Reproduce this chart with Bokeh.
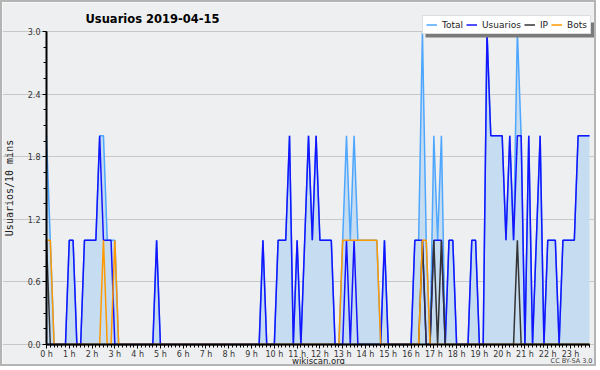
from bokeh.plotting import figure
from bokeh.models import (ColumnDataSource, FixedTicker, NumeralTickFormatter, Legend,
                          LegendItem, Range1d, Label, BoxAnnotation)
from bokeh.embed import file_html
from bokeh.resources import INLINE

# ---- data: one value per 10-minute slot (144 slots), grouped per hour ----
total = [
    2, 1, 0, 0, 0, 0,   1, 1, 0, 0, 1, 1,   1, 1, 2, 2, 1, 1,   1, 0, 0, 0, 0, 0,
    0, 0, 0, 0, 0, 1,   0, 0, 0, 0, 0, 0,   0, 0, 0, 0, 0, 0,   0, 0, 0, 0, 0, 0,
    0, 0, 0, 0, 0, 0,   0, 0, 0, 1, 0, 0,   0, 1, 1, 1, 2, 0,   1, 0, 1, 2, 1, 2,
    1, 1, 1, 1, 0, 0,   1, 2, 1, 2, 1, 1,   1, 1, 1, 1, 0, 1,   0, 0, 0, 0, 0, 0,
    0, 1, 1, 3, 1, 0,   2, 1, 2, 0, 1, 1,   0, 0, 0, 0, 1, 1,   0, 0, 3, 2, 2, 2,
    2, 1, 2, 1, 3, 2,   0, 2, 0, 1, 2, 0,   1, 1, 1, 0, 1, 1,   1, 1, 2, 2, 2, 2,
]
usuarios = [
    0, 0, 0, 0, 0, 0,   1, 1, 0, 0, 1, 1,   1, 1, 2, 1, 1, 1,   0, 0, 0, 0, 0, 0,
    0, 0, 0, 0, 0, 1,   0, 0, 0, 0, 0, 0,   0, 0, 0, 0, 0, 0,   0, 0, 0, 0, 0, 0,
    0, 0, 0, 0, 0, 0,   0, 0, 0, 1, 0, 0,   0, 1, 1, 1, 2, 0,   1, 0, 1, 2, 1, 2,
    1, 1, 1, 1, 0, 0,   0, 1, 0, 1, 0, 0,   0, 0, 0, 0, 0, 1,   0, 0, 0, 0, 0, 0,
    0, 1, 1, 1, 0, 0,   1, 1, 1, 0, 1, 1,   0, 0, 0, 0, 1, 1,   0, 0, 3, 2, 2, 2,
    2, 1, 2, 1, 2, 2,   0, 2, 0, 1, 2, 0,   1, 1, 1, 0, 1, 1,   1, 1, 2, 2, 2, 2,
]
ip = [
    1, 0, 0, 0, 0, 0,   0, 0, 0, 0, 0, 0,   0, 0, 0, 0, 0, 0,   0, 0, 0, 0, 0, 0,
    0, 0, 0, 0, 0, 0,   0, 0, 0, 0, 0, 0,   0, 0, 0, 0, 0, 0,   0, 0, 0, 0, 0, 0,
    0, 0, 0, 0, 0, 0,   0, 0, 0, 0, 0, 0,   0, 0, 0, 0, 0, 0,   0, 0, 0, 0, 0, 0,
    0, 0, 0, 0, 0, 0,   0, 0, 0, 0, 0, 0,   0, 0, 0, 0, 0, 0,   0, 0, 0, 0, 0, 0,
    0, 0, 0, 1, 0, 0,   1, 0, 1, 0, 0, 0,   0, 0, 0, 0, 0, 0,   0, 0, 0, 0, 0, 0,
    0, 0, 0, 0, 1, 0,   0, 0, 0, 0, 0, 0,   0, 0, 0, 0, 0, 0,   0, 0, 0, 0, 0, 0,
]
bots = [
    1, 1, 0, 0, 0, 0,   0, 0, 0, 0, 0, 0,   0, 0, 0, 1, 0, 0,   1, 0, 0, 0, 0, 0,
    0, 0, 0, 0, 0, 0,   0, 0, 0, 0, 0, 0,   0, 0, 0, 0, 0, 0,   0, 0, 0, 0, 0, 0,
    0, 0, 0, 0, 0, 0,   0, 0, 0, 0, 0, 0,   0, 0, 0, 0, 0, 0,   0, 0, 0, 0, 0, 0,
    0, 0, 0, 0, 0, 0,   1, 1, 1, 1, 1, 1,   1, 1, 1, 1, 0, 0,   0, 0, 0, 0, 0, 0,
    0, 0, 0, 1, 1, 0,   0, 0, 0, 0, 0, 0,   0, 0, 0, 0, 0, 0,   0, 0, 0, 0, 0, 0,
    0, 0, 0, 0, 0, 0,   0, 0, 0, 0, 0, 0,   0, 0, 0, 0, 0, 0,   0, 0, 0, 0, 0, 0,
]
slots = [k / 6 for k in range(144)]          # time of each slot, in hours
hours = list(range(24))
hour_labels = {h: f"{h} h" for h in hours}
y_ticks = [0.0, 0.6, 1.2, 1.8, 2.4, 3.0]
y_minor = [k * 0.15 for k in range(21)]
series_names = ["Total", "Usuarios", "IP", "Bots"]
series_colors = ["#4DA6FF", "#1414FF", "#333333", "#FF9900"]

src = ColumnDataSource(dict(x=slots, total=total, usuarios=usuarios, ip=ip, bots=bots))

FONT = "DejaVu Sans"
BG = "#EEEFF0"

# the frame fills the whole canvas; both axes are drawn inside it at 0
p = figure(width=596, height=366, output_backend="svg", toolbar_location=None,
           title=None, x_range=Range1d(-1.931, 24.228), y_range=Range1d(-0.230, 3.278),
           min_border_left=0, min_border_right=0, min_border_top=0, min_border_bottom=0,
           background_fill_color=BG, border_fill_color=BG, outline_line_color=None)
p.styles = {"border": "2px solid #B4B4B4"}

p.varea(x="x", y1=0, y2="total", source=src, fill_color="#C6DDF1", fill_alpha=1)
renderers = []
for col, color in zip(["total", "usuarios", "ip", "bots"], series_colors):
    r = p.line(x="x", y=col, source=src, line_color=color, line_width=1.5)
    renderers.append(r)

# axes
p.xaxis.ticker = FixedTicker(ticks=hours, minor_ticks=slots)
p.xaxis.major_label_overrides = hour_labels
p.xaxis.fixed_location = 0
p.xaxis.bounds = (0, slots[-1])
p.yaxis.ticker = FixedTicker(ticks=y_ticks, minor_ticks=y_minor)
p.yaxis.formatter = NumeralTickFormatter(format="0.0")
p.yaxis.fixed_location = 0
p.yaxis.bounds = (0, 3)
for ax in (p.xaxis[0], p.yaxis[0]):
    ax.axis_line_color = "#000000"
    ax.axis_line_width = 2
    ax.major_tick_line_color = "#000000"
    ax.minor_tick_line_color = "#000000"
    ax.major_tick_in = 0
    ax.minor_tick_in = 0
    ax.major_tick_out = 4
    ax.minor_tick_out = 3
    ax.major_label_text_font = FONT
    ax.major_label_text_font_size = "8px"
    ax.major_label_text_color = "#333333"
    ax.major_label_standoff = 2
    ax.axis_label_text_font_style = "normal"
    ax.axis_label_text_color = "#222222"
p.xaxis.major_label_standoff = 1
p.yaxis.axis_label = "Usuarios/10 mins"
p.yaxis.axis_label_text_font = "DejaVu Sans Mono"
p.yaxis.axis_label_text_font_size = "10px"
p.yaxis.axis_label_standoff = 10

p.xgrid.visible = False
p.ygrid.ticker = FixedTicker(ticks=y_ticks)
p.ygrid.bounds = (0, slots[-1])
p.ygrid.grid_line_color = "#C8C8C8"
p.ygrid.grid_line_width = 1

# texts (screen units from the frame's bottom-left corner)
p.add_layout(Label(x=83, y=350, x_units="screen", y_units="screen",
                   text="Usuarios  2019-04-15", text_font=FONT, text_font_size="11.5px",
                   text_font_style="bold", text_color="#000000", text_baseline="middle"))
p.add_layout(Label(x=316, y=8, x_units="screen", y_units="screen", text="wikiscan.org",
                   text_font=FONT, text_font_size="8.5px", text_color="#222222",
                   text_align="center", text_baseline="middle"))
p.add_layout(Label(x=590, y=8, x_units="screen", y_units="screen", text="CC BY-SA 3.0",
                   text_font=FONT, text_font_size="6.5px", text_color="#444444",
                   text_align="right", text_baseline="middle"))

# legend with a drop shadow
p.add_layout(BoxAnnotation(left=423, right=592, bottom=331, top=346,
                           left_units="screen", right_units="screen",
                           bottom_units="screen", top_units="screen",
                           fill_color="#7A7A7A", fill_alpha=1, line_color=None))
legend = Legend(items=[LegendItem(label=n, renderers=[r]) for n, r in zip(series_names, renderers)],
                location=(420, 334), orientation="horizontal", glyph_width=11, glyph_height=11,
                label_standoff=5, spacing=3, padding=3, margin=0, label_width=0,
                label_text_font=FONT, label_text_font_size="9px", label_height=11,
                background_fill_color="#FFFFFF", background_fill_alpha=1,
                border_line_color="#BBBBBB", border_line_width=1, label_text_color="#222222")
p.add_layout(legend, "center")

open("out.html", "w").write(file_html(p, INLINE))
